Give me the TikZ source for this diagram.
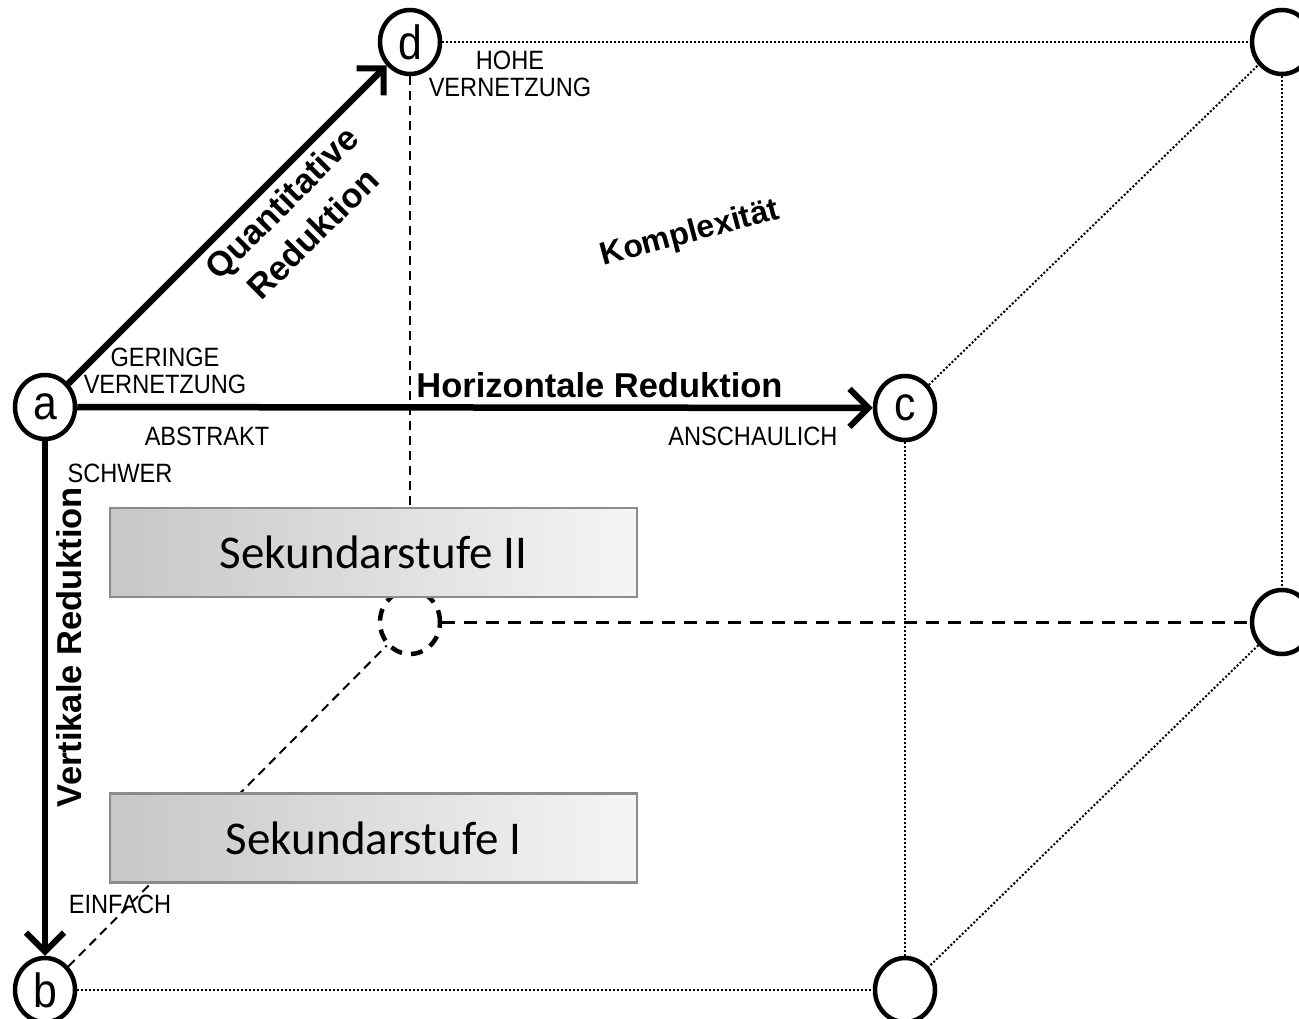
\documentclass[tikz,border=0pt]{standalone}
\usepackage{fontspec}
\setmainfont{Liberation Sans}
\newfontfamily\calib{Carlito}
\newfontfamily\narrowfont{Liberation Sans}[FakeStretch=0.89]
\usetikzlibrary{shapes.geometric,arrows.meta}
\begin{document}
\begin{tikzpicture}[x=1pt,y=-1pt,
  vtx/.style={ellipse,draw,line width=4.5pt,minimum width=60pt,minimum height=64pt,inner sep=0pt,font=\narrowfont\fontsize{48}{48}\selectfont},
  bigarrow/.style={line width=6.5pt,-{Straight Barb[length=19pt,width=38pt,line width=6pt]}},
  dotline/.style={line width=2pt,dash pattern=on 2pt off 2pt},
  dashline/.style={line width=2pt,dash pattern=on 9pt off 6pt},
  stufe/.style={draw=black!45,line width=2.5pt,left color=black!22,right color=black!4,minimum width=527pt,minimum height=89pt,inner sep=0pt,font=\calib\fontsize{47}{49}\selectfont},
  small/.style={font=\narrowfont\fontsize{26.5}{27}\selectfont,align=center,inner sep=0pt},
  boldlbl/.style={font=\bfseries\fontsize{34.5}{44}\selectfont,align=center,inner sep=0pt}]
\useasboundingbox (0,0) rectangle (1299,1019);
\clip (0,0) rectangle (1299,1019);
% vertices
\node[vtx] (a) at (45,407) {a};
\node[vtx] (b) at (45,990) {b};
\node[vtx] (c) at (905,408) {c};
\node[vtx] (br) at (905,990) {};
\node[vtx] (d) at (410,42) {d};
\node[vtx] (tr) at (1282,42) {};
\node[vtx] (rm) at (1282,622) {};
\node[vtx,dash pattern=on 12pt off 9pt] (bl) at (410,622) {};
% hidden / back edges
\draw[dotline] (d) -- (tr);
\draw[dotline] (tr) -- (rm);
\draw[dotline] (c) -- (tr);
\draw[dotline] (c) -- (br);
\draw[dotline] (rm) -- (br);
\draw[dotline] (b) -- (br);
\draw[dashline] (d) -- (bl);
\draw[dashline] (b) -- (bl);
\draw[line width=3pt,dash pattern=on 13pt off 9pt] (bl) -- (rm);
% boxes
\node[stufe] (s2) at (373.5,552.5) {Sekundarstufe II};
\node[stufe] (s1) at (373.5,838) {Sekundarstufe I};
% arrows
\draw[bigarrow] (a) -- (d);
\draw[bigarrow] (a) -- (c);
\draw[bigarrow] (a) -- (b);
% labels
\node[small] (hohe) at (510,74) {HOHE\\VERNETZUNG};
\node[small] (ger) at (165,371) {GERINGE\\VERNETZUNG};
\node[small] (abs) at (207,436) {ABSTRAKT};
\node[small] (ans) at (753,436) {ANSCHAULICH};
\node[small] (sch) at (120,473) {SCHWER};
\node[small] (ein) at (120,904) {EINFACH};
\node[boldlbl] (hor) at (599.5,385) {Horizontale Reduktion};
\node[boldlbl,font=\bfseries\fontsize{32}{36}\selectfont,rotate=15] (kom) at (690,234) {Komplexität};
\node[boldlbl,rotate=45] (quant) at (297,218) {Quantitative\\Reduktion};
\node[boldlbl,rotate=90] (vert) at (69,647) {Vertikale Reduktion};
\end{tikzpicture}
\end{document}
